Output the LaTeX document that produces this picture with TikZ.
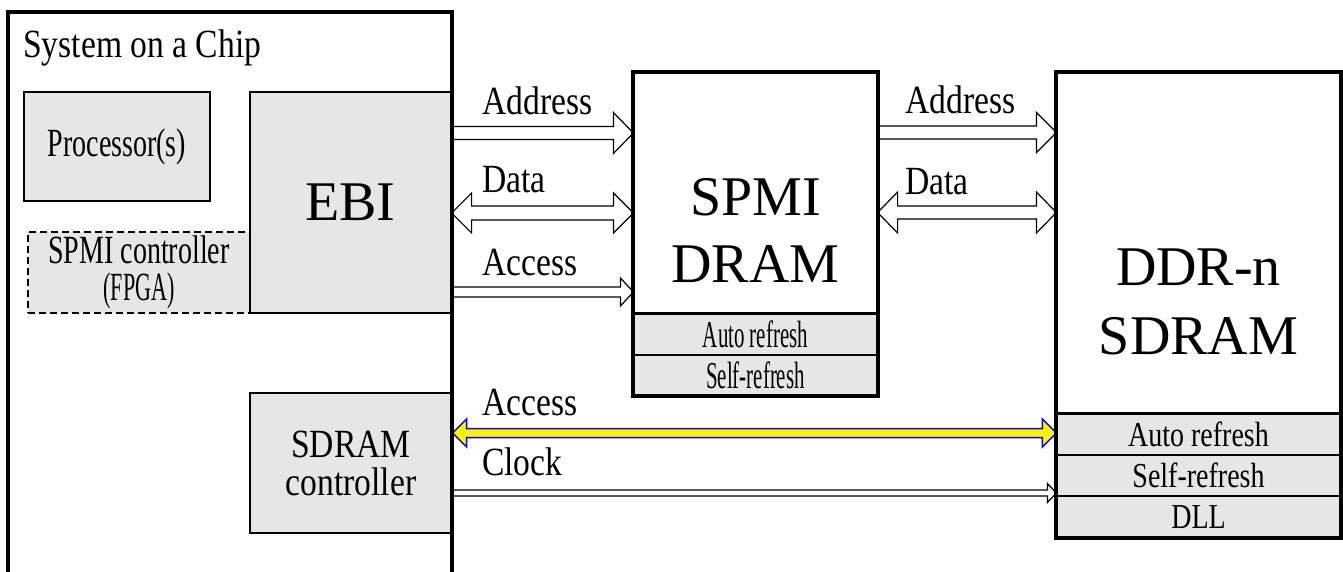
\documentclass[tikz,border=0pt]{standalone}
\usepackage{fontspec}
\setmainfont{Liberation Serif}
\newfontfamily\labelfont[FakeStretch=0.84]{Liberation Serif}
\newfontfamily\boxfont[FakeStretch=0.7]{Liberation Serif}
\newfontfamily\rowfont[FakeStretch=0.8]{Liberation Serif}
\newfontfamily\slimfont[FakeStretch=0.55]{Liberation Serif}
\usetikzlibrary{calc}

\definecolor{boxgray}{HTML}{E6E6E6}

\tikzset{
  graybox/.style={draw, line width=1.2, fill=boxgray, inner sep=0pt},
  membox/.style={draw, line width=1.2, fill=white, inner sep=0pt},
  busline/.style={draw=black, line width=1.2, fill=white},
  hotline/.style={draw=blue, line width=1.5, fill=yellow},
  labeltext/.style={font=\labelfont\fontsize{40}{48}\selectfont, inner sep=0pt, anchor=base west},
  bigtext/.style={font=\fontsize{56}{67}\selectfont, align=center, inner sep=0pt},
  frame/.style={draw, line width=4},
}

% hollow bus arrow: [style]{from node}{to node}{y}{shaft half}{head half}{head length}
\newcommand{\busarrow}[7][busline]{%
  \coordinate (ba) at (#2.east |- 0,#4);
  \coordinate (bb) at (#3.west |- 0,#4);
  \path[#1] ($(ba)+(0,#5)$) -- ($(bb)+(-#7,#5)$) -- ($(bb)+(-#7,#6)$) -- (bb)
    -- ($(bb)+(-#7,-#6)$) -- ($(bb)+(-#7,-#5)$) -- ($(ba)+(0,-#5)$) -- cycle;}
% same, with a head at both ends
\newcommand{\busarrows}[7][busline]{%
  \coordinate (ba) at (#2.east |- 0,#4);
  \coordinate (bb) at (#3.west |- 0,#4);
  \path[#1] ($(ba)+(#7,#5)$) -- ($(bb)+(-#7,#5)$) -- ($(bb)+(-#7,#6)$) -- (bb)
    -- ($(bb)+(-#7,-#6)$) -- ($(bb)+(-#7,-#5)$) -- ($(ba)+(#7,-#5)$)
    -- ($(ba)+(#7,-#6)$) -- (ba) -- ($(ba)+(#7,#6)$) -- cycle;}

\begin{document}
\begin{tikzpicture}[x=1pt, y=-1pt]
    \useasboundingbox (0,0) rectangle (1343,572);

    % system on a chip
    \node[labeltext] (soctitle) at (23,58) {System on a Chip};
    \node[graybox, minimum width=186, minimum height=109, font=\boxfont\fontsize{40}{48}\selectfont] (proc) at (117,146.5) {Processor(s)};
    \node[graybox, dash pattern=on 7pt off 4pt, minimum width=222, minimum height=81, align=center, font=\boxfont\fontsize{40}{37}\selectfont] (spmictl) at (139,272.5) {SPMI controller\\{\slimfont (FPGA)}};
    \node[graybox, minimum width=201, minimum height=221, font=\fontsize{56}{67}\selectfont] (ebi) at (350.5,202.5) {EBI};
    \node[graybox, minimum width=202, minimum height=140, align=center, font=\labelfont\fontsize{40}{38}\selectfont] (sdramctl) at (351,463) {SDRAM\\controller};

    % SPMI DRAM
    \node[membox, minimum width=243, minimum height=240] (spmi) at (755.5,193) {};
    \node[graybox, minimum width=243, minimum height=40, anchor=north, font=\slimfont\fontsize{38}{40}\selectfont] (spmiauto) at (spmi.south) {Auto refresh};
    \node[graybox, minimum width=243, minimum height=40, anchor=north, font=\slimfont\fontsize{38}{40}\selectfont] (spmiself) at (spmiauto.south) {Self-refresh};
    \node[bigtext] (spmilabel) at (755.5,230.5) {SPMI\\DRAM};

    % DDR-n SDRAM
    \node[membox, minimum width=283, minimum height=340] (ddr) at (1198.5,243) {};
    \node[graybox, minimum width=283, minimum height=40, anchor=north, font=\rowfont\fontsize{35}{40}\selectfont] (ddrauto) at (ddr.south) {Auto refresh};
    \node[graybox, minimum width=283, minimum height=40, anchor=north, font=\rowfont\fontsize{35}{40}\selectfont] (ddrself) at (ddrauto.south) {Self-refresh};
    \node[graybox, minimum width=283, minimum height=41, anchor=north, font=\rowfont\fontsize{35}{40}\selectfont] (ddrdll) at (ddrself.south) {DLL};
    \node[bigtext, font=\fontsize{56}{69}\selectfont] (ddrlabel) at (1198.5,301.5) {DDR-n\\SDRAM};

    % bus labels
    \node[labeltext] (addrone) at (482,115) {Address};
    \node[labeltext] (dataone) at (482,193) {Data};
    \node[labeltext] (accone) at (482,275) {Access};
    \node[labeltext] (addrtwo) at (905,114) {Address};
    \node[labeltext] (datatwo) at (905,194) {Data};
    \node[labeltext] (acctwo) at (482,415) {Access};
    \node[labeltext] (clock) at (482,475) {Clock};

    % buses
    \busarrow{ebi}{spmi}{133}{6.5}{20.5}{20}
    \busarrows{ebi}{spmi}{213}{7}{20}{20}
    \busarrow{ebi}{spmi}{292}{5}{14}{13}
    \busarrow{spmi}{ddr}{132.5}{6.5}{20}{20}
    \busarrows{spmi}{ddr}{212.5}{6.5}{20.5}{20}
    \busarrows[hotline]{sdramctl}{ddr}{433}{4.5}{14}{14}
    \busarrow{sdramctl}{ddr}{493}{3}{9.5}{9}

    % thick frames
    \draw[frame] (spmi.north west) rectangle (spmiself.south east);
    \draw[frame] (ddr.north west) rectangle (ddrdll.south east);
    \draw[frame] (8,572) -- (8,12) -- (452,12) -- (452,572);
\end{tikzpicture}
\end{document}
